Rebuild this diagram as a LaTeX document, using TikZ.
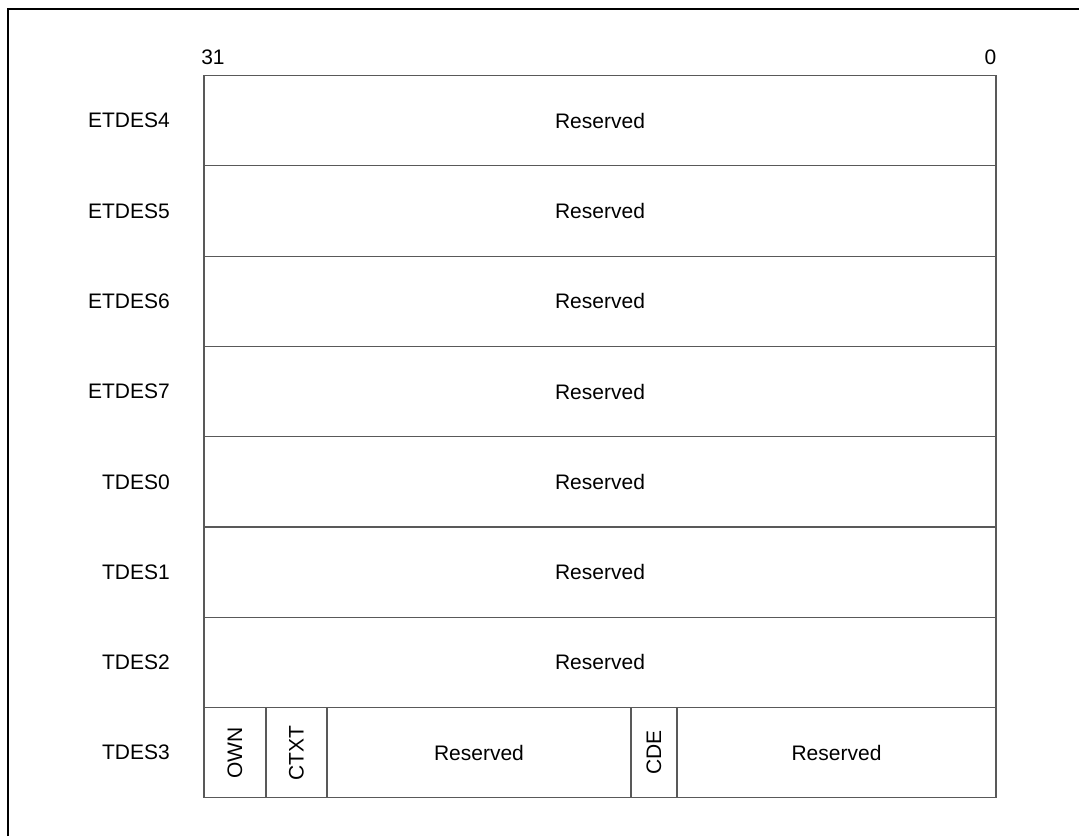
\documentclass[tikz,border=0pt]{standalone}
\usepackage{fontspec}
\setmainfont{Liberation Sans}
\begin{document}
\begin{tikzpicture}[x=1pt,y=1pt,
  txt/.style={font=\fontsize{21}{25}\selectfont, inner sep=0pt},
  rowbox/.style={draw=black!65, line width=1.1pt, inner sep=0pt, outer sep=0pt,
    minimum width=792pt, minimum height=90.3pt, anchor=north west, txt},
  cell/.style={draw=black!65, line width=1.1pt, inner sep=0pt, outer sep=0pt,
    minimum height=90.3pt, anchor=north west, txt},
  lbl/.style={txt, anchor=east},
  frameline/.style={line width=2pt, black}
]
\useasboundingbox (0,0) rectangle (1079,-836);
% outer frame
\coordinate (ftl) at (8,-9);
\coordinate (ftr) at (1079,-9);
\coordinate (fbl) at (8,-836);
\draw[frameline] (fbl) -- (ftl) -- (ftr);
% bit numbers
\node[txt] (b31) at (213,-57.5) {31};
\node[txt, anchor=east] (b0) at (996.5,-57.5) {0};
% rows
\node[rowbox] (r0) at (204,-75.5) {Reserved};
\node[rowbox] (r1) at (204,-165.8) {Reserved};
\node[rowbox] (r2) at (204,-256.1) {Reserved};
\node[rowbox] (r3) at (204,-346.4) {Reserved};
\node[rowbox] (r4) at (204,-436.7) {Reserved};
\node[rowbox] (r5) at (204,-527.0) {Reserved};
\node[rowbox] (r6) at (204,-617.3) {Reserved};
% TDES3 cells
\node[cell, minimum width=62pt] (own) at (204,-707.6) {};
\node[cell, minimum width=61pt] (ctxt) at (266,-707.6) {};
\node[cell, minimum width=304pt] (res1) at (327,-707.6) {Reserved};
\node[cell, minimum width=46pt] (cde) at (631,-707.6) {};
\node[cell, minimum width=319pt] (res2) at (677,-707.6) {Reserved};
\node[txt, rotate=90] (townn) at (own.center) {OWN};
\node[txt, rotate=90] (tctxt) at (ctxt.center) {CTXT};
\node[txt, rotate=90] (tcde) at (cde.center) {CDE};
% row labels
\node[lbl] (l0) at (170,-120.6) {ETDES4};
\node[lbl] (l1) at (170,-210.9) {ETDES5};
\node[lbl] (l2) at (170,-301.2) {ETDES6};
\node[lbl] (l3) at (170,-391.5) {ETDES7};
\node[lbl] (l4) at (170,-481.8) {TDES0};
\node[lbl] (l5) at (170,-572.1) {TDES1};
\node[lbl] (l6) at (170,-662.4) {TDES2};
\node[lbl] (l7) at (170,-752.7) {TDES3};
\end{tikzpicture}
\end{document}
